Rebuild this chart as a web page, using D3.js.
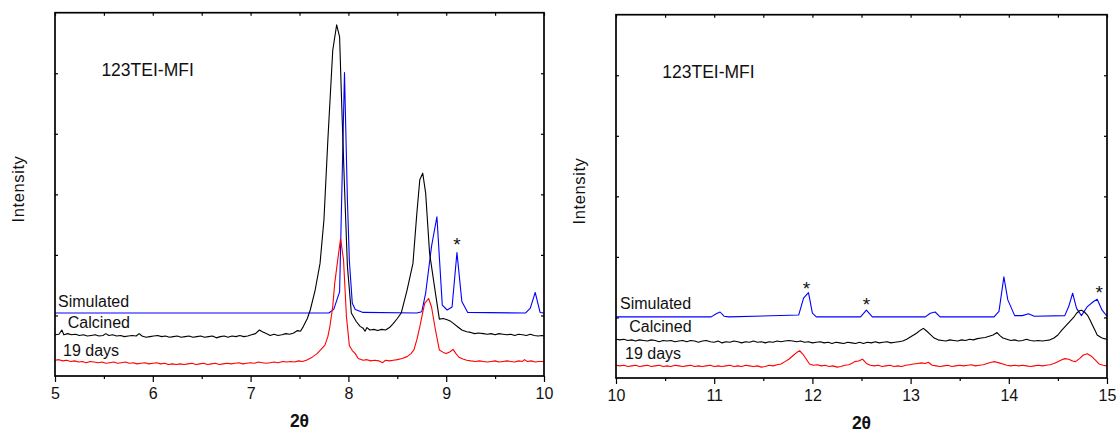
<!DOCTYPE html>
<html>
<head>
<meta charset="utf-8">
<script src="https://cdn.jsdelivr.net/npm/d3@7"></script>
<style>
  body { margin: 0; background: #fff; }
  svg text { font-family: Arial, "Liberation Sans", sans-serif; fill: #111; }
</style>
</head>
<body>
<div id="chart"></div>
<script>
// x ticks and series for each panel, values are [2theta, intensity (stacked, a.u.)]
var leftTicks = [5, 6, 7, 8, 9, 10];
var rightTicks = [10, 11, 12, 13, 14, 15];
var seriesNames = ["Simulated", "Calcined", "19 days"];
var seriesColors = ["#0000ff", "#000000", "#ff0000"];

var leftSimulated = [
    [5.0, 1.04], [7.80, 1.04], [7.85, 1.10], [7.91, 1.39], [7.96, 5.01], [7.99, 2.9],
    [8.01, 1.9], [8.04, 1.2], [8.07, 1.1], [8.15, 1.05], [8.70, 1.04], [8.75, 1.06],
    [8.79, 1.37], [8.85, 2.14], [8.905, 2.63], [8.96, 1.17], [9.01, 1.09], [9.06, 1.14],
    [9.11, 2.04], [9.16, 1.23], [9.22, 1.05], [9.81, 1.04], [9.86, 1.12], [9.91, 1.38],
    [9.96, 1.05], [10.0, 1.04]
];

var leftCalcined = [
    [5.00, 0.68], [5.04, 0.69], [5.07, 0.76], [5.09, 0.68], [5.13, 0.70], [5.17, 0.68],
    [5.21, 0.69], [5.25, 0.67], [5.29, 0.68], [5.33, 0.66], [5.37, 0.67], [5.41, 0.68],
    [5.45, 0.66], [5.49, 0.67], [5.52, 0.70], [5.55, 0.67], [5.59, 0.68], [5.63, 0.66],
    [5.67, 0.67], [5.71, 0.65], [5.75, 0.66], [5.79, 0.67], [5.83, 0.66], [5.86, 0.70],
    [5.89, 0.66], [5.93, 0.64], [5.97, 0.65], [6.01, 0.66], [6.05, 0.67], [6.09, 0.65],
    [6.13, 0.66], [6.17, 0.64], [6.21, 0.65], [6.25, 0.66], [6.29, 0.64], [6.33, 0.65],
    [6.37, 0.66], [6.41, 0.64], [6.45, 0.65], [6.49, 0.66], [6.53, 0.64], [6.57, 0.65],
    [6.61, 0.66], [6.65, 0.63], [6.69, 0.65], [6.73, 0.66], [6.77, 0.64], [6.81, 0.66],
    [6.85, 0.65], [6.89, 0.67], [6.93, 0.65], [6.97, 0.66], [7.01, 0.68], [7.05, 0.70],
    [7.09, 0.76], [7.12, 0.73], [7.16, 0.70], [7.20, 0.67], [7.24, 0.69], [7.28, 0.67],
    [7.32, 0.68], [7.36, 0.70], [7.40, 0.69], [7.44, 0.71], [7.48, 0.75], [7.51, 0.74],
    [7.54, 0.82], [7.58, 0.95], [7.61, 1.09], [7.66, 1.42], [7.71, 1.86], [7.75, 2.58],
    [7.79, 3.90], [7.84, 5.38], [7.88, 5.80], [7.91, 5.60], [7.93, 4.56], [7.96, 3.13],
    [7.99, 1.81], [8.03, 1.04], [8.08, 0.90], [8.12, 0.82], [8.15, 0.79], [8.17, 0.74],
    [8.19, 0.80], [8.22, 0.76], [8.26, 0.77], [8.30, 0.75], [8.34, 0.77], [8.38, 0.76],
    [8.42, 0.80], [8.46, 0.87], [8.50, 0.95], [8.54, 1.04], [8.60, 1.42], [8.66, 1.86],
    [8.70, 2.69], [8.73, 3.24], [8.76, 3.35], [8.79, 3.02], [8.83, 2.03], [8.89, 1.37],
    [8.93, 0.94], [8.97, 0.95], [9.01, 0.93], [9.04, 0.91], [9.08, 0.86], [9.12, 0.81],
    [9.16, 0.76], [9.21, 0.73], [9.25, 0.72], [9.29, 0.70], [9.33, 0.71], [9.38, 0.70],
    [9.42, 0.69], [9.46, 0.70], [9.50, 0.68], [9.54, 0.70], [9.58, 0.69], [9.62, 0.68],
    [9.66, 0.69], [9.70, 0.67], [9.74, 0.69], [9.78, 0.68], [9.82, 0.67], [9.86, 0.69],
    [9.90, 0.67], [9.94, 0.66], [9.98, 0.67], [10.00, 0.66]
];

var left19days = [
    [5.00, 0.26], [5.04, 0.27], [5.08, 0.25], [5.12, 0.26], [5.16, 0.24], [5.20, 0.25],
    [5.24, 0.23], [5.28, 0.24], [5.32, 0.22], [5.36, 0.24], [5.40, 0.23], [5.44, 0.22],
    [5.48, 0.23], [5.52, 0.21], [5.56, 0.22], [5.60, 0.23], [5.64, 0.21], [5.68, 0.22],
    [5.72, 0.23], [5.76, 0.21], [5.80, 0.22], [5.84, 0.20], [5.88, 0.21], [5.92, 0.22],
    [5.96, 0.20], [6.00, 0.21], [6.04, 0.22], [6.08, 0.20], [6.12, 0.21], [6.16, 0.19],
    [6.20, 0.20], [6.24, 0.19], [6.28, 0.20], [6.32, 0.19], [6.36, 0.20], [6.40, 0.21],
    [6.44, 0.19], [6.48, 0.20], [6.52, 0.21], [6.56, 0.19], [6.60, 0.20], [6.64, 0.21],
    [6.68, 0.19], [6.72, 0.20], [6.76, 0.21], [6.80, 0.20], [6.84, 0.21], [6.88, 0.22],
    [6.92, 0.20], [6.96, 0.21], [7.00, 0.22], [7.04, 0.21], [7.08, 0.23], [7.12, 0.22],
    [7.16, 0.21], [7.20, 0.22], [7.24, 0.23], [7.28, 0.22], [7.33, 0.24], [7.37, 0.23],
    [7.41, 0.24], [7.45, 0.23], [7.49, 0.25], [7.53, 0.24], [7.57, 0.26], [7.62, 0.30],
    [7.68, 0.37], [7.72, 0.44], [7.76, 0.51], [7.79, 0.65], [7.81, 0.81], [7.84, 1.15],
    [7.86, 1.53], [7.90, 2.03], [7.92, 2.27], [7.95, 1.92], [7.98, 0.98], [8.01, 0.50],
    [8.04, 0.42], [8.07, 0.37], [8.10, 0.29], [8.15, 0.26], [8.19, 0.27], [8.23, 0.25],
    [8.27, 0.26], [8.31, 0.25], [8.35, 0.22], [8.38, 0.26], [8.42, 0.25], [8.46, 0.26],
    [8.50, 0.27], [8.55, 0.29], [8.60, 0.32], [8.64, 0.37], [8.67, 0.43], [8.70, 0.60],
    [8.73, 0.81], [8.76, 1.05], [8.78, 1.20], [8.82, 1.28], [8.85, 1.14], [8.87, 0.95],
    [8.89, 0.76], [8.93, 0.43], [8.97, 0.39], [9.00, 0.37], [9.04, 0.40], [9.07, 0.44],
    [9.10, 0.37], [9.13, 0.31], [9.17, 0.28], [9.21, 0.26], [9.25, 0.25], [9.30, 0.24],
    [9.34, 0.25], [9.38, 0.24], [9.42, 0.23], [9.46, 0.24], [9.50, 0.25], [9.54, 0.23],
    [9.58, 0.24], [9.62, 0.25], [9.66, 0.24], [9.70, 0.23], [9.74, 0.25], [9.78, 0.24],
    [9.80, 0.27], [9.83, 0.24], [9.87, 0.25], [9.91, 0.23], [9.95, 0.24], [10.00, 0.24]
];

var rightSimulated = [
    [10.0, 1.01], [10.97, 1.01], [11.02, 1.06], [11.06, 1.09], [11.10, 1.02], [11.15, 1.01],
    [11.86, 1.04], [11.91, 1.32], [11.96, 1.41], [12.00, 1.07], [12.04, 1.01], [12.49, 1.01],
    [12.55, 1.12], [12.61, 1.01], [13.15, 1.01], [13.20, 1.07], [13.25, 1.09], [13.30, 1.01],
    [13.85, 1.01], [13.90, 1.10], [13.95, 1.67], [13.99, 1.29], [14.06, 1.03], [14.14, 1.03],
    [14.20, 1.06], [14.26, 1.02], [14.57, 1.03], [14.61, 1.18], [14.65, 1.40], [14.69, 1.15],
    [14.74, 1.03], [14.80, 1.18], [14.86, 1.26], [14.90, 1.30], [14.95, 1.12], [15.0, 1.02]
];

var rightCalcined = [
    [10.00, 0.64], [10.04, 0.63], [10.08, 0.64], [10.12, 0.62], [10.16, 0.63], [10.20, 0.61],
    [10.24, 0.63], [10.28, 0.62], [10.32, 0.61], [10.36, 0.63], [10.40, 0.62], [10.44, 0.60],
    [10.48, 0.62], [10.52, 0.61], [10.56, 0.62], [10.60, 0.60], [10.64, 0.61], [10.68, 0.62],
    [10.72, 0.60], [10.76, 0.62], [10.80, 0.61], [10.84, 0.59], [10.88, 0.61], [10.92, 0.62],
    [10.96, 0.60], [11.00, 0.59], [11.04, 0.61], [11.08, 0.58], [11.12, 0.60], [11.16, 0.59],
    [11.20, 0.61], [11.24, 0.60], [11.28, 0.58], [11.32, 0.60], [11.36, 0.59], [11.40, 0.61],
    [11.44, 0.59], [11.48, 0.60], [11.52, 0.58], [11.56, 0.60], [11.60, 0.59], [11.64, 0.61],
    [11.68, 0.60], [11.72, 0.61], [11.76, 0.62], [11.80, 0.61], [11.84, 0.60], [11.88, 0.61],
    [11.92, 0.59], [11.96, 0.60], [12.00, 0.58], [12.04, 0.59], [12.08, 0.60], [12.12, 0.58],
    [12.16, 0.59], [12.20, 0.57], [12.24, 0.59], [12.28, 0.58], [12.32, 0.57], [12.36, 0.59],
    [12.40, 0.58], [12.44, 0.57], [12.48, 0.59], [12.52, 0.57], [12.56, 0.59], [12.60, 0.58],
    [12.64, 0.60], [12.68, 0.58], [12.72, 0.59], [12.76, 0.60], [12.80, 0.58], [12.84, 0.59],
    [12.88, 0.60], [12.92, 0.61], [12.96, 0.64], [13.01, 0.69], [13.06, 0.74], [13.10, 0.79],
    [13.13, 0.82], [13.16, 0.78], [13.20, 0.72], [13.24, 0.66], [13.28, 0.63], [13.32, 0.62],
    [13.36, 0.61], [13.40, 0.63], [13.44, 0.62], [13.48, 0.61], [13.52, 0.63], [13.56, 0.62],
    [13.60, 0.64], [13.64, 0.63], [13.68, 0.65], [13.72, 0.66], [13.76, 0.67], [13.80, 0.69],
    [13.84, 0.71], [13.88, 0.75], [13.91, 0.70], [13.94, 0.66], [13.98, 0.64], [14.02, 0.62],
    [14.06, 0.63], [14.10, 0.61], [14.14, 0.62], [14.18, 0.64], [14.22, 0.62], [14.26, 0.61],
    [14.30, 0.62], [14.34, 0.61], [14.38, 0.62], [14.42, 0.63], [14.46, 0.66], [14.50, 0.71],
    [14.54, 0.79], [14.58, 0.86], [14.62, 0.93], [14.66, 1.00], [14.69, 1.07], [14.72, 1.11],
    [14.74, 1.12], [14.77, 1.09], [14.80, 1.04], [14.83, 0.95], [14.85, 0.88], [14.88, 0.78],
    [14.90, 0.71], [14.94, 0.67], [14.97, 0.65], [15.00, 0.64]
];

var right19days = [
    [10.00, 0.21], [10.04, 0.20], [10.08, 0.21], [10.12, 0.19], [10.16, 0.20], [10.20, 0.21],
    [10.24, 0.19], [10.28, 0.20], [10.32, 0.21], [10.36, 0.19], [10.40, 0.20], [10.44, 0.21],
    [10.48, 0.19], [10.52, 0.20], [10.56, 0.19], [10.60, 0.21], [10.64, 0.20], [10.68, 0.19],
    [10.72, 0.20], [10.76, 0.21], [10.80, 0.19], [10.84, 0.20], [10.88, 0.19], [10.92, 0.20],
    [10.96, 0.21], [11.00, 0.19], [11.04, 0.20], [11.08, 0.19], [11.12, 0.20], [11.16, 0.21],
    [11.20, 0.19], [11.24, 0.20], [11.28, 0.19], [11.32, 0.21], [11.36, 0.20], [11.40, 0.19],
    [11.44, 0.20], [11.48, 0.18], [11.52, 0.19], [11.56, 0.21], [11.60, 0.20], [11.64, 0.22],
    [11.68, 0.23], [11.72, 0.27], [11.76, 0.31], [11.81, 0.38], [11.84, 0.42], [11.87, 0.45],
    [11.90, 0.40], [11.93, 0.33], [11.97, 0.23], [12.01, 0.21], [12.05, 0.22], [12.09, 0.20],
    [12.13, 0.21], [12.17, 0.19], [12.21, 0.20], [12.25, 0.18], [12.29, 0.19], [12.33, 0.21],
    [12.37, 0.22], [12.40, 0.24], [12.43, 0.27], [12.47, 0.28], [12.51, 0.31], [12.55, 0.24],
    [12.59, 0.21], [12.63, 0.20], [12.67, 0.21], [12.71, 0.19], [12.75, 0.20], [12.79, 0.21],
    [12.83, 0.19], [12.87, 0.20], [12.91, 0.19], [12.95, 0.21], [12.99, 0.22], [13.03, 0.23],
    [13.07, 0.24], [13.11, 0.25], [13.15, 0.24], [13.18, 0.26], [13.22, 0.21], [13.26, 0.20],
    [13.30, 0.19], [13.34, 0.20], [13.38, 0.21], [13.42, 0.19], [13.46, 0.20], [13.50, 0.21],
    [13.54, 0.20], [13.58, 0.21], [13.62, 0.22], [13.66, 0.20], [13.70, 0.21], [13.74, 0.22],
    [13.78, 0.24], [13.82, 0.26], [13.86, 0.27], [13.90, 0.25], [13.94, 0.23], [13.98, 0.21],
    [14.02, 0.20], [14.06, 0.21], [14.10, 0.20], [14.14, 0.21], [14.18, 0.20], [14.22, 0.19],
    [14.26, 0.20], [14.30, 0.21], [14.34, 0.20], [14.38, 0.21], [14.42, 0.22], [14.46, 0.24],
    [14.50, 0.27], [14.54, 0.30], [14.57, 0.32], [14.61, 0.31], [14.65, 0.28], [14.68, 0.27],
    [14.72, 0.32], [14.76, 0.38], [14.80, 0.40], [14.84, 0.36], [14.88, 0.30], [14.92, 0.23],
    [14.96, 0.21], [15.00, 0.20]
];

// asterisk marks: [2theta, intensity of text baseline]
var leftStars = [[9.11, 2.07]];
var rightStars = [[11.94, 1.37], [12.55, 1.10], [14.92, 1.30]];

var svg = d3.select("#chart")
    .append("svg")
    .attr("width", 1117)
    .attr("height", 432);

function drawPanel(p) {
    var width = p.x1 - p.x0,
        height = p.y1 - p.y0;

    var g = svg.append("g")
        .attr("transform", "translate(" + p.x0 + "," + p.y0 + ")");

    var x = d3.scaleLinear().domain(p.domain).range([0, width]);
    var y = d3.scaleLinear().domain([0, 6]).range([height, 0]);

    var halfTicks = d3.range(p.domain[0], p.domain[1] + 0.01, 0.5);
    var minor = halfTicks.filter(function (v) { return v % 1 !== 0; });

    // bottom axis: major labelled ticks outward, minor half ticks
    g.append("g")
        .attr("transform", "translate(0," + height + ")")
        .call(d3.axisBottom(x).tickValues(p.ticks).tickFormat(d3.format("d"))
            .tickSizeInner(6).tickSizeOuter(0).tickPadding(6))
        .call(function (a) { a.select(".domain").remove(); })
        .selectAll("text")
        .style("font-size", "16px");

    g.append("g")
        .attr("transform", "translate(0," + height + ")")
        .call(d3.axisBottom(x).tickValues(minor).tickFormat("").tickSizeInner(3).tickSizeOuter(0))
        .call(function (a) { a.select(".domain").remove(); });

    // top axis: inward ticks
    g.append("g")
        .call(d3.axisTop(x).tickValues(halfTicks).tickFormat("").tickSizeInner(-3).tickSizeOuter(0))
        .call(function (a) { a.select(".domain").remove(); });

    // left & right axes: inward ticks, no labels
    g.append("g")
        .call(d3.axisLeft(y).tickValues([1, 2, 3, 4, 5]).tickFormat("").tickSizeInner(-3).tickSizeOuter(0))
        .call(function (a) { a.select(".domain").remove(); });

    g.append("g")
        .attr("transform", "translate(" + width + ",0)")
        .call(d3.axisRight(y).tickValues([1, 2, 3, 4, 5]).tickFormat("").tickSizeInner(-3).tickSizeOuter(0))
        .call(function (a) { a.select(".domain").remove(); });

    g.selectAll(".tick line").attr("stroke", "#000").attr("stroke-width", 1.2);

    // curves
    var line = d3.line()
        .x(function (d) { return x(d[0]); })
        .y(function (d) { return y(d[1]); });

    g.selectAll("path.trace")
        .data(p.series)
        .enter()
        .append("path")
        .attr("class", "trace")
        .attr("d", line)
        .attr("fill", "none")
        .attr("stroke", function (d, i) { return seriesColors[i]; })
        .attr("stroke-width", 1.1)
        .attr("stroke-linejoin", "round");

    // frame
    g.append("rect")
        .attr("width", width)
        .attr("height", height)
        .attr("fill", "none")
        .attr("stroke", "#000")
        .attr("stroke-width", 1.7);

    // series names
    g.selectAll("text.name")
        .data(seriesNames)
        .enter()
        .append("text")
        .attr("class", "name")
        .attr("x", function (d, i) { return p.nameX[i]; })
        .attr("y", function (d, i) { return height - p.nameDy[i]; })
        .style("font-size", "16px")
        .text(function (d) { return d; });

    // asterisks
    g.selectAll("text.star")
        .data(p.stars)
        .enter()
        .append("text")
        .attr("class", "star")
        .attr("x", function (d) { return x(d[0]); })
        .attr("y", function (d) { return y(d[1]); })
        .attr("text-anchor", "middle")
        .style("font-size", "19px")
        .text("*");

    // sample title
    g.append("text")
        .attr("x", p.titleX)
        .attr("y", p.titleY)
        .style("font-size", "17.5px")
        .text("123TEI-MFI");

    // axis titles
    g.append("text")
        .attr("x", width / 2)
        .attr("y", height + 51)
        .attr("text-anchor", "middle")
        .style("font-size", "17.5px")
        .style("font-weight", "bold")
        .text("2\u03b8");

    g.append("text")
        .attr("transform", "translate(-31," + (p.intensityY) + ") rotate(-90)")
        .attr("text-anchor", "middle")
        .style("font-size", "16.5px")
        .style("letter-spacing", "0.6px")
        .text("Intensity");
}

drawPanel({
    x0: 55, x1: 544, y0: 12.7, y1: 376,
    domain: [5, 10], ticks: leftTicks,
    series: [leftSimulated, leftCalcined, left19days],
    stars: leftStars,
    nameX: [3, 12.7, 8], nameDy: [69.3, 48, 20],
    titleX: 46.4, titleY: 63.7,
    intensityY: 176.3
});

drawPanel({
    x0: 616, x1: 1107, y0: 14.7, y1: 378,
    domain: [10, 15], ticks: rightTicks,
    series: [rightSimulated, rightCalcined, right19days],
    stars: rightStars,
    nameX: [4, 13.3, 9], nameDy: [68.7, 46.3, 19],
    titleX: 46.3, titleY: 63.6,
    intensityY: 176.3
});
</script>
</body>
</html>
